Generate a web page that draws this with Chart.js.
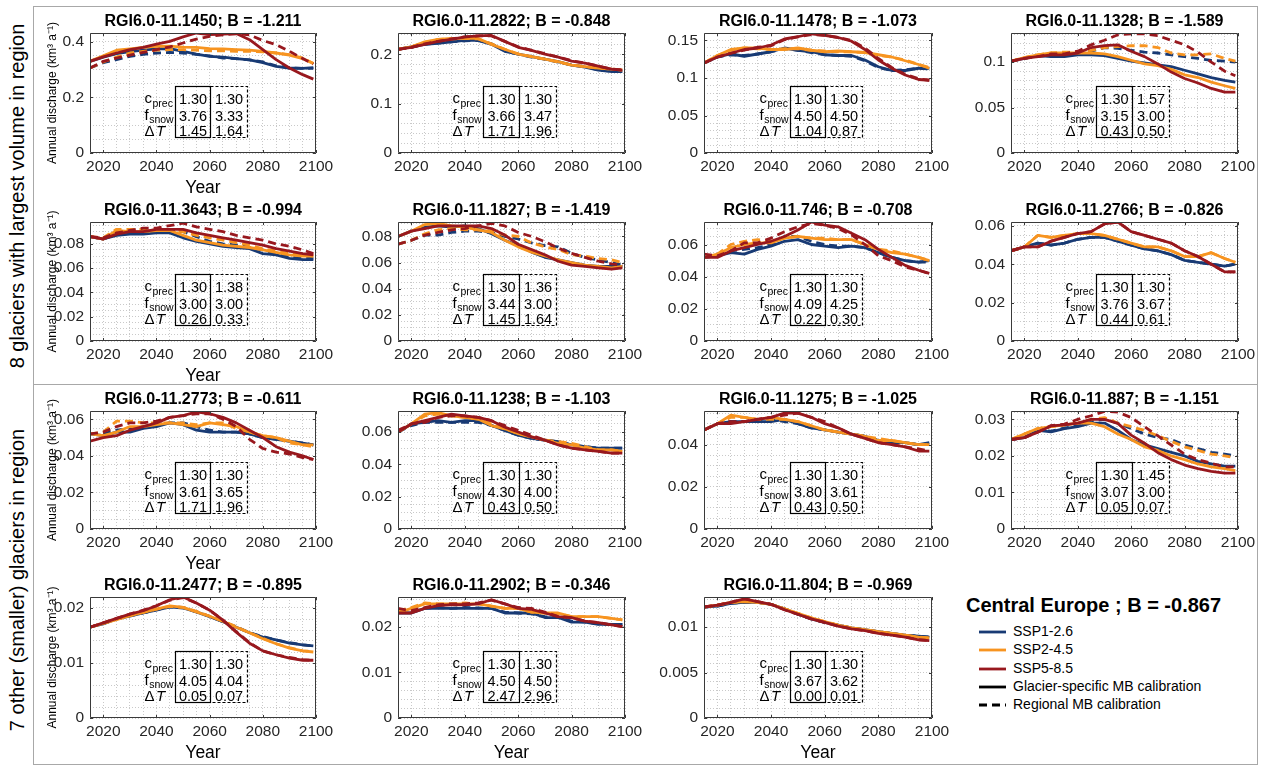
<!DOCTYPE html>
<html>
<head>
<meta charset="utf-8">
<title>Central Europe glacier discharge projections</title>
<script src="https://cdn.jsdelivr.net/npm/chart.js@4.4.1/dist/chart.umd.min.js"></script>
<style>
  html, body { margin: 0; padding: 0; background: #fff; }
  #page { position: relative; width: 1263px; height: 769px; overflow: hidden;
          font-family: "Liberation Sans", Arial, Helvetica, sans-serif; color: #000; }
  #page canvas { position: absolute; }
  .frame { position: absolute; border: 1px solid #a8a8a8; box-sizing: border-box; }
  .rule { position: absolute; height: 1px; background: #a8a8a8; }
  .group { position: absolute; white-space: nowrap; font-size: 20px;
           transform: translate(-50%, -50%) rotate(-90deg); }
  #legend { position: absolute; left: 966px; top: 594px; }
  #legend .head { font-weight: bold; font-size: 20px; white-space: nowrap; margin-bottom: 6px; }
  #legend .row { position: relative; height: 18.3px; font-size: 14px; white-space: nowrap; }
  #legend .row svg { position: absolute; left: 13px; top: 4px; }
  #legend .row span { position: absolute; left: 47px; top: 0; }
</style>
</head>
<body>
<div id="page">
  <div class="frame" style="left:33px; top:6px; width:1225px; height:759px;"></div>
  <div class="rule" style="left:33px; top:384px; width:1225px;"></div>
  <div class="group" style="left:17px; top:196px;">8 glaciers with largest volume in region</div>
  <div class="group" style="left:17px; top:580px;">7 other (smaller) glaciers in region</div>
  <div id="legend"></div>
</div>
<script>
// ---------------------------------------------------------------
// Annual glacier discharge (km3 a-1), 2015-2099, for three SSPs.
// gs = glacier-specific MB calibration, rg = regional MB calibration
// ---------------------------------------------------------------
const YEARS = [2015,2020,2025,2030,2035,2040,2045,2050,2055,2060,2065,2070,2075,2080,2085,2090,2095,2099];

// RGI6.0-11.1450
const gs1450_126 = [0.330,0.345,0.358,0.365,0.370,0.375,0.376,0.366,0.356,0.348,0.345,0.340,0.335,0.325,0.312,0.306,0.305,0.307];
const rg1450_126 = [0.306,0.325,0.336,0.348,0.355,0.360,0.362,0.360,0.355,0.350,0.342,0.340,0.335,0.328,0.314,0.306,0.305,0.305];
const gs1450_245 = [0.330,0.350,0.370,0.375,0.380,0.384,0.385,0.381,0.380,0.376,0.375,0.372,0.370,0.366,0.360,0.352,0.340,0.322];
const rg1450_245 = [0.306,0.328,0.345,0.360,0.366,0.370,0.372,0.372,0.370,0.368,0.368,0.366,0.366,0.364,0.360,0.354,0.342,0.322];
const gs1450_585 = [0.330,0.346,0.360,0.372,0.380,0.392,0.402,0.418,0.432,0.426,0.428,0.430,0.408,0.372,0.336,0.306,0.282,0.266];
const rg1450_585 = [0.306,0.330,0.342,0.352,0.362,0.372,0.382,0.396,0.410,0.420,0.425,0.430,0.425,0.405,0.390,0.366,0.340,0.320];

// RGI6.0-11.2822
const gs2822_126 = [0.210,0.215,0.220,0.222,0.225,0.228,0.228,0.220,0.206,0.200,0.195,0.190,0.185,0.178,0.174,0.168,0.165,0.165];
const rg2822_126 = [0.210,0.214,0.220,0.223,0.225,0.227,0.228,0.221,0.207,0.200,0.194,0.190,0.184,0.178,0.175,0.168,0.166,0.165];
const gs2822_245 = [0.210,0.215,0.225,0.230,0.232,0.232,0.232,0.220,0.210,0.200,0.195,0.190,0.185,0.178,0.175,0.172,0.170,0.168];
const rg2822_245 = [0.210,0.215,0.224,0.230,0.231,0.232,0.231,0.221,0.210,0.201,0.195,0.190,0.184,0.178,0.175,0.172,0.170,0.168];
const gs2822_585 = [0.210,0.214,0.220,0.226,0.230,0.235,0.237,0.238,0.226,0.214,0.208,0.200,0.194,0.186,0.182,0.176,0.170,0.168];
const rg2822_585 = [0.210,0.214,0.221,0.226,0.231,0.235,0.237,0.237,0.226,0.215,0.208,0.201,0.194,0.187,0.182,0.176,0.170,0.168];

// RGI6.0-11.1478
const gs1478_126 = [0.120,0.128,0.132,0.129,0.132,0.135,0.140,0.137,0.135,0.131,0.130,0.130,0.124,0.115,0.110,0.110,0.113,0.113];
const rg1478_126 = [0.120,0.128,0.131,0.130,0.132,0.135,0.139,0.137,0.134,0.131,0.130,0.129,0.123,0.114,0.110,0.111,0.113,0.112];
const gs1478_245 = [0.120,0.130,0.138,0.140,0.140,0.138,0.138,0.140,0.137,0.135,0.136,0.135,0.134,0.131,0.128,0.123,0.118,0.113];
const rg1478_245 = [0.120,0.130,0.137,0.140,0.139,0.138,0.139,0.139,0.137,0.136,0.135,0.135,0.134,0.130,0.128,0.124,0.118,0.114];
const gs1478_585 = [0.120,0.128,0.133,0.138,0.140,0.144,0.152,0.155,0.159,0.157,0.154,0.149,0.138,0.124,0.113,0.104,0.098,0.097];
const rg1478_585 = [0.120,0.128,0.133,0.137,0.141,0.143,0.151,0.155,0.158,0.157,0.154,0.150,0.140,0.126,0.114,0.105,0.099,0.097];

// RGI6.0-11.1328
const gs1328_126 = [0.101,0.104,0.107,0.106,0.106,0.108,0.108,0.107,0.104,0.101,0.099,0.097,0.095,0.091,0.087,0.083,0.080,0.078];
const rg1328_126 = [0.101,0.104,0.107,0.107,0.108,0.110,0.112,0.116,0.115,0.113,0.111,0.110,0.108,0.106,0.104,0.102,0.101,0.100];
const gs1328_245 = [0.101,0.105,0.108,0.110,0.110,0.110,0.110,0.109,0.106,0.102,0.098,0.096,0.092,0.086,0.083,0.078,0.074,0.071];
const rg1328_245 = [0.101,0.105,0.108,0.110,0.111,0.111,0.113,0.116,0.117,0.118,0.118,0.116,0.110,0.108,0.108,0.109,0.104,0.101];
const gs1328_585 = [0.101,0.104,0.106,0.108,0.108,0.110,0.116,0.118,0.119,0.112,0.106,0.098,0.089,0.082,0.077,0.071,0.067,0.067];
const rg1328_585 = [0.101,0.104,0.106,0.109,0.109,0.112,0.119,0.124,0.130,0.131,0.131,0.129,0.124,0.119,0.111,0.100,0.090,0.085];

// RGI6.0-11.3643
const gs3643_126 = [0.086,0.084,0.087,0.088,0.088,0.089,0.089,0.085,0.082,0.080,0.078,0.077,0.076,0.072,0.071,0.068,0.067,0.067];
const rg3643_126 = [0.086,0.084,0.088,0.089,0.090,0.090,0.091,0.090,0.086,0.082,0.080,0.079,0.077,0.075,0.072,0.069,0.068,0.068];
const gs3643_245 = [0.086,0.084,0.091,0.090,0.090,0.091,0.091,0.087,0.083,0.081,0.079,0.078,0.077,0.075,0.073,0.071,0.070,0.070];
const rg3643_245 = [0.086,0.085,0.092,0.092,0.092,0.091,0.091,0.090,0.087,0.085,0.083,0.081,0.079,0.076,0.074,0.072,0.071,0.070];
const gs3643_585 = [0.086,0.084,0.088,0.090,0.090,0.092,0.092,0.092,0.089,0.087,0.085,0.083,0.081,0.079,0.076,0.074,0.072,0.071];
const rg3643_585 = [0.086,0.085,0.089,0.091,0.093,0.093,0.095,0.097,0.094,0.092,0.090,0.087,0.085,0.083,0.080,0.078,0.075,0.072];

// RGI6.0-11.1827
const gs1827_126 = [0.080,0.084,0.087,0.088,0.087,0.088,0.086,0.082,0.077,0.073,0.068,0.064,0.062,0.060,0.058,0.057,0.057,0.057];
const rg1827_126 = [0.074,0.077,0.081,0.081,0.083,0.084,0.084,0.083,0.080,0.078,0.075,0.073,0.072,0.067,0.064,0.062,0.060,0.058];
const gs1827_245 = [0.080,0.084,0.089,0.090,0.088,0.087,0.085,0.083,0.077,0.072,0.068,0.065,0.062,0.060,0.058,0.057,0.056,0.057];
const rg1827_245 = [0.074,0.077,0.082,0.085,0.086,0.085,0.085,0.084,0.081,0.080,0.075,0.072,0.070,0.066,0.065,0.063,0.062,0.060];
const gs1827_585 = [0.080,0.084,0.086,0.088,0.088,0.088,0.088,0.086,0.081,0.074,0.070,0.066,0.061,0.058,0.057,0.056,0.055,0.056];
const rg1827_585 = [0.074,0.077,0.081,0.083,0.085,0.086,0.088,0.090,0.088,0.083,0.080,0.076,0.071,0.067,0.064,0.061,0.059,0.058];

// RGI6.0-11.746
const gs746_126 = [0.052,0.053,0.055,0.054,0.057,0.059,0.062,0.063,0.060,0.059,0.058,0.059,0.058,0.055,0.052,0.050,0.049,0.050];
const rg746_126 = [0.052,0.053,0.056,0.057,0.058,0.060,0.065,0.065,0.062,0.060,0.059,0.059,0.058,0.055,0.052,0.050,0.049,0.049];
const gs746_245 = [0.052,0.054,0.058,0.060,0.061,0.061,0.064,0.065,0.064,0.063,0.063,0.063,0.060,0.057,0.055,0.054,0.052,0.050];
const rg746_245 = [0.052,0.054,0.060,0.062,0.063,0.062,0.064,0.065,0.064,0.064,0.063,0.063,0.060,0.057,0.056,0.054,0.052,0.050];
const gs746_585 = [0.052,0.052,0.056,0.058,0.060,0.062,0.065,0.069,0.074,0.072,0.071,0.067,0.063,0.057,0.052,0.047,0.044,0.042];
const rg746_585 = [0.054,0.053,0.056,0.061,0.061,0.064,0.068,0.071,0.073,0.072,0.070,0.066,0.060,0.053,0.050,0.046,0.044,0.042];

// RGI6.0-11.2766
const gs2766_126 = [0.047,0.049,0.051,0.050,0.051,0.053,0.054,0.054,0.052,0.050,0.048,0.047,0.045,0.042,0.041,0.040,0.039,0.040];
const rg2766_126 = [0.047,0.049,0.051,0.050,0.051,0.053,0.054,0.054,0.052,0.050,0.048,0.047,0.045,0.042,0.041,0.040,0.039,0.040];
const gs2766_245 = [0.047,0.049,0.055,0.054,0.055,0.056,0.056,0.055,0.053,0.051,0.049,0.049,0.047,0.044,0.044,0.046,0.043,0.041];
const rg2766_245 = [0.047,0.049,0.055,0.054,0.055,0.056,0.056,0.055,0.053,0.051,0.049,0.049,0.047,0.044,0.044,0.046,0.043,0.041];
const gs2766_585 = [0.047,0.049,0.049,0.052,0.054,0.056,0.057,0.061,0.062,0.057,0.055,0.053,0.051,0.047,0.044,0.040,0.036,0.036];
const rg2766_585 = [0.047,0.049,0.049,0.052,0.054,0.056,0.057,0.061,0.062,0.057,0.055,0.053,0.051,0.047,0.044,0.040,0.036,0.036];

// RGI6.0-11.2773
const gs2773_126 = [0.052,0.051,0.053,0.053,0.055,0.056,0.058,0.057,0.054,0.053,0.053,0.053,0.052,0.050,0.049,0.048,0.047,0.046];
const rg2773_126 = [0.052,0.052,0.054,0.055,0.056,0.057,0.058,0.058,0.056,0.054,0.053,0.053,0.052,0.050,0.049,0.048,0.047,0.046];
const gs2773_245 = [0.052,0.051,0.053,0.056,0.056,0.057,0.058,0.057,0.056,0.058,0.057,0.056,0.053,0.051,0.050,0.048,0.046,0.046];
const rg2773_245 = [0.052,0.053,0.059,0.059,0.058,0.058,0.058,0.058,0.057,0.058,0.058,0.055,0.053,0.051,0.050,0.047,0.046,0.045];
const gs2773_585 = [0.048,0.050,0.051,0.054,0.056,0.058,0.061,0.062,0.064,0.063,0.061,0.058,0.054,0.050,0.045,0.042,0.040,0.038];
const rg2773_585 = [0.052,0.053,0.056,0.058,0.058,0.059,0.061,0.062,0.063,0.063,0.060,0.056,0.049,0.044,0.042,0.041,0.039,0.038];

// RGI6.0-11.1238
const gs1238_126 = [0.060,0.065,0.066,0.067,0.066,0.067,0.067,0.064,0.061,0.058,0.056,0.055,0.054,0.052,0.051,0.050,0.050,0.050];
const rg1238_126 = [0.060,0.064,0.066,0.066,0.066,0.066,0.066,0.064,0.061,0.058,0.056,0.055,0.054,0.052,0.051,0.050,0.050,0.050];
const gs1238_245 = [0.060,0.065,0.071,0.072,0.070,0.069,0.068,0.064,0.062,0.059,0.057,0.055,0.053,0.052,0.050,0.049,0.049,0.048];
const rg1238_245 = [0.060,0.065,0.070,0.071,0.070,0.069,0.068,0.065,0.062,0.059,0.057,0.055,0.054,0.053,0.051,0.049,0.049,0.048];
const gs1238_585 = [0.060,0.065,0.067,0.069,0.071,0.070,0.069,0.067,0.063,0.060,0.057,0.055,0.052,0.050,0.049,0.048,0.047,0.047];
const rg1238_585 = [0.061,0.065,0.066,0.069,0.070,0.070,0.069,0.067,0.064,0.061,0.058,0.055,0.052,0.050,0.049,0.048,0.047,0.047];

// RGI6.0-11.1275
const gs1275_126 = [0.047,0.050,0.051,0.051,0.051,0.051,0.052,0.050,0.048,0.047,0.046,0.045,0.044,0.042,0.041,0.041,0.040,0.041];
const rg1275_126 = [0.047,0.050,0.051,0.051,0.051,0.052,0.051,0.050,0.048,0.047,0.046,0.045,0.044,0.042,0.041,0.041,0.040,0.040];
const gs1275_245 = [0.047,0.050,0.054,0.053,0.052,0.053,0.052,0.051,0.049,0.047,0.046,0.045,0.044,0.042,0.042,0.041,0.040,0.040];
const rg1275_245 = [0.047,0.050,0.053,0.053,0.052,0.052,0.052,0.051,0.049,0.047,0.046,0.045,0.044,0.043,0.042,0.041,0.040,0.040];
const gs1275_585 = [0.047,0.050,0.050,0.051,0.052,0.053,0.055,0.055,0.053,0.050,0.048,0.045,0.043,0.041,0.040,0.039,0.037,0.037];
const rg1275_585 = [0.047,0.050,0.051,0.051,0.052,0.053,0.054,0.055,0.053,0.051,0.048,0.045,0.043,0.041,0.040,0.039,0.038,0.037];

// RGI6.0-11.887
const gs887_126 = [0.0245,0.0250,0.0270,0.0266,0.0275,0.0280,0.0290,0.0290,0.0270,0.0245,0.0230,0.0220,0.0210,0.0200,0.0185,0.0178,0.0172,0.0172];
const rg887_126 = [0.0245,0.0250,0.0270,0.0268,0.0276,0.0282,0.0295,0.0300,0.0290,0.0275,0.0260,0.0250,0.0245,0.0230,0.0220,0.0210,0.0205,0.0200];
const gs887_245 = [0.0245,0.0260,0.0275,0.0280,0.0285,0.0290,0.0290,0.0280,0.0260,0.0245,0.0225,0.0215,0.0200,0.0190,0.0178,0.0170,0.0165,0.0160];
const rg887_245 = [0.0245,0.0260,0.0275,0.0280,0.0285,0.0290,0.0300,0.0305,0.0290,0.0280,0.0270,0.0255,0.0240,0.0225,0.0215,0.0205,0.0200,0.0195];
const gs887_585 = [0.0245,0.0250,0.0265,0.0282,0.0285,0.0290,0.0300,0.0300,0.0289,0.0257,0.0235,0.0209,0.0190,0.0175,0.0165,0.0158,0.0153,0.0153];
const rg887_585 = [0.0245,0.0250,0.0265,0.0283,0.0287,0.0300,0.0310,0.0322,0.0320,0.0305,0.0280,0.0255,0.0230,0.0205,0.0190,0.0180,0.0170,0.0170];

// RGI6.0-11.2477
const gs2477_126 = [0.0165,0.0171,0.0180,0.0185,0.0191,0.0196,0.0202,0.0200,0.0193,0.0184,0.0175,0.0165,0.0155,0.0147,0.0142,0.0136,0.0133,0.0131];
const rg2477_126 = [0.0165,0.0172,0.0180,0.0186,0.0191,0.0197,0.0202,0.0201,0.0193,0.0185,0.0175,0.0166,0.0155,0.0148,0.0142,0.0137,0.0133,0.0131];
const gs2477_245 = [0.0165,0.0172,0.0179,0.0186,0.0192,0.0198,0.0204,0.0201,0.0193,0.0185,0.0176,0.0165,0.0155,0.0144,0.0135,0.0127,0.0122,0.0120];
const rg2477_245 = [0.0165,0.0172,0.0180,0.0186,0.0192,0.0198,0.0203,0.0201,0.0194,0.0185,0.0176,0.0166,0.0155,0.0145,0.0135,0.0128,0.0122,0.0121];
const gs2477_585 = [0.0165,0.0173,0.0181,0.0189,0.0195,0.0204,0.0215,0.0220,0.0209,0.0196,0.0178,0.0156,0.0136,0.0122,0.0115,0.0109,0.0105,0.0105];
const rg2477_585 = [0.0165,0.0173,0.0181,0.0189,0.0196,0.0204,0.0214,0.0219,0.0209,0.0196,0.0178,0.0157,0.0137,0.0122,0.0115,0.0110,0.0106,0.0105];

// RGI6.0-11.2902
const gs2902_126 = [0.0230,0.0230,0.0240,0.0240,0.0240,0.0240,0.0240,0.0240,0.0230,0.0230,0.0230,0.0220,0.0220,0.0210,0.0210,0.0205,0.0205,0.0205];
const rg2902_126 = [0.0235,0.0232,0.0240,0.0242,0.0240,0.0242,0.0241,0.0240,0.0232,0.0230,0.0228,0.0222,0.0220,0.0212,0.0210,0.0206,0.0205,0.0205];
const gs2902_245 = [0.0230,0.0240,0.0250,0.0250,0.0250,0.0250,0.0250,0.0245,0.0240,0.0240,0.0232,0.0230,0.0230,0.0222,0.0222,0.0222,0.0218,0.0215];
const rg2902_245 = [0.0235,0.0242,0.0252,0.0250,0.0250,0.0252,0.0250,0.0245,0.0240,0.0240,0.0232,0.0230,0.0228,0.0222,0.0222,0.0222,0.0218,0.0215];
const gs2902_585 = [0.0230,0.0230,0.0240,0.0246,0.0248,0.0248,0.0250,0.0259,0.0250,0.0240,0.0238,0.0230,0.0222,0.0220,0.0212,0.0209,0.0204,0.0200];
const rg2902_585 = [0.0240,0.0235,0.0242,0.0248,0.0250,0.0250,0.0252,0.0258,0.0250,0.0242,0.0240,0.0232,0.0222,0.0220,0.0212,0.0209,0.0204,0.0200];

// RGI6.0-11.804
const gs804_126 = [0.0122,0.0123,0.0126,0.0127,0.0127,0.0125,0.0120,0.0114,0.0109,0.0105,0.0102,0.0099,0.0097,0.0095,0.0093,0.0091,0.0090,0.0089];
const rg804_126 = [0.0122,0.0123,0.0126,0.0127,0.0127,0.0125,0.0120,0.0114,0.0109,0.0105,0.0102,0.0099,0.0097,0.0095,0.0093,0.0091,0.0090,0.0089];
const gs804_245 = [0.0122,0.0124,0.0127,0.0128,0.0127,0.0125,0.0120,0.0115,0.0110,0.0106,0.0102,0.0099,0.0097,0.0095,0.0093,0.0091,0.0089,0.0088];
const rg804_245 = [0.0122,0.0124,0.0127,0.0128,0.0127,0.0125,0.0120,0.0115,0.0110,0.0106,0.0102,0.0099,0.0097,0.0095,0.0093,0.0091,0.0089,0.0088];
const gs804_585 = [0.0122,0.0124,0.0127,0.0131,0.0128,0.0125,0.0119,0.0114,0.0109,0.0105,0.0101,0.0098,0.0096,0.0093,0.0091,0.0089,0.0086,0.0085];
const rg804_585 = [0.0122,0.0124,0.0127,0.0131,0.0128,0.0125,0.0119,0.0114,0.0109,0.0105,0.0101,0.0098,0.0096,0.0093,0.0091,0.0089,0.0086,0.0085];

// Panel order: left-to-right, top-to-bottom
const GLACIER_IDS = ['11.1450','11.2822','11.1478','11.1328','11.3643','11.1827','11.746','11.2766',
                     '11.2773','11.1238','11.1275','11.887','11.2477','11.2902','11.804'];
const MB_B = [-1.211,-0.848,-1.073,-1.589,-0.994,-1.419,-0.708,-0.826,-0.611,-1.103,-1.025,-1.151,-0.895,-0.346,-0.969];

// calibration parameters: [glacier-specific, regional]
const C_PREC  = [[1.30,1.30],[1.30,1.30],[1.30,1.30],[1.30,1.57],[1.30,1.38],[1.30,1.36],[1.30,1.30],[1.30,1.30],
                 [1.30,1.30],[1.30,1.30],[1.30,1.30],[1.30,1.45],[1.30,1.30],[1.30,1.30],[1.30,1.30]];
const F_SNOW  = [[3.76,3.33],[3.66,3.47],[4.50,4.50],[3.15,3.00],[3.00,3.00],[3.44,3.00],[4.09,4.25],[3.76,3.67],
                 [3.61,3.65],[4.30,4.00],[3.80,3.61],[3.07,3.00],[4.05,4.04],[4.50,4.50],[3.67,3.62]];
const DELTA_T = [[1.45,1.64],[1.71,1.96],[1.04,0.87],[0.43,0.50],[0.26,0.33],[1.45,1.64],[0.22,0.30],[0.44,0.61],
                 [1.71,1.96],[0.43,0.50],[0.43,0.50],[0.05,0.07],[0.05,0.07],[2.47,2.96],[0.00,0.01]];

// y-axis upper limits and tick steps
const Y_MAX   = [0.432,0.243,0.160,0.132,0.098,0.091,0.074,0.062,0.0645,0.073,0.056,0.0323,0.0220,0.0265,0.0133];
const Y_MAJOR = [0.2,0.1,0.05,0.05,0.02,0.02,0.02,0.02,0.02,0.02,0.02,0.01,0.01,0.01,0.005];
const Y_MINOR = [0.05,0.02,0.01,0.01,0.005,0.005,0.005,0.005,0.005,0.005,0.005,0.002,0.002,0.002,0.001];

const SERIES = [
  [gs1450_126, rg1450_126, gs1450_245, rg1450_245, gs1450_585, rg1450_585],
  [gs2822_126, rg2822_126, gs2822_245, rg2822_245, gs2822_585, rg2822_585],
  [gs1478_126, rg1478_126, gs1478_245, rg1478_245, gs1478_585, rg1478_585],
  [gs1328_126, rg1328_126, gs1328_245, rg1328_245, gs1328_585, rg1328_585],
  [gs3643_126, rg3643_126, gs3643_245, rg3643_245, gs3643_585, rg3643_585],
  [gs1827_126, rg1827_126, gs1827_245, rg1827_245, gs1827_585, rg1827_585],
  [gs746_126,  rg746_126,  gs746_245,  rg746_245,  gs746_585,  rg746_585],
  [gs2766_126, rg2766_126, gs2766_245, rg2766_245, gs2766_585, rg2766_585],
  [gs2773_126, rg2773_126, gs2773_245, rg2773_245, gs2773_585, rg2773_585],
  [gs1238_126, rg1238_126, gs1238_245, rg1238_245, gs1238_585, rg1238_585],
  [gs1275_126, rg1275_126, gs1275_245, rg1275_245, gs1275_585, rg1275_585],
  [gs887_126,  rg887_126,  gs887_245,  rg887_245,  gs887_585,  rg887_585],
  [gs2477_126, rg2477_126, gs2477_245, rg2477_245, gs2477_585, rg2477_585],
  [gs2902_126, rg2902_126, gs2902_245, rg2902_245, gs2902_585, rg2902_585],
  [gs804_126,  rg804_126,  gs804_245,  rg804_245,  gs804_585,  rg804_585]
];

const SCENARIOS = ['SSP1-2.6','SSP2-4.5','SSP5-8.5'];
const SSP_COLORS = ['rgb(24,58,116)','rgb(247,148,32)','rgb(152,24,30)'];
const REGION_TITLE = 'Central Europe ; B = -0.867';

// ---------------------------------------------------------------
// layout of the small multiples (plot-area boxes, px)
// ---------------------------------------------------------------
const COL_LEFT = [90, 398, 704, 1011];
const COL_W    = [226, 227, 228, 227];
const ROW_TOP  = [33, 222, 411, 597];
const ROW_H    = [120, 119, 118, 121];
const PAD_L = 60, PAD_R = 22, PAD_T = 30, PAD_B = 46;
const FONT = '"Liberation Sans", Arial, Helvetica, sans-serif';

Chart.defaults.font.family = FONT;
Chart.defaults.color = '#262626';

const isMultiple = (v, step) => Math.abs(v / step - Math.round(v / step)) < 1e-6;
const fmt = v => (Math.abs(v) < 1e-12 ? '0' : String(+v.toFixed(4)));

// frame + inward tick marks drawn over the series, as in a boxed axes
const boxFrame = {
  id: 'boxFrame',
  afterDatasetsDraw(chart, args, opts) {
    const {ctx, chartArea: a, scales: {x, y}} = chart;
    ctx.save();
    ctx.strokeStyle = '#3a3a3a';
    ctx.lineWidth = 1;
    ctx.beginPath();
    ctx.rect(Math.round(a.left) + 0.5, Math.round(a.top) + 0.5,
             Math.round(a.right - a.left) - 1, Math.round(a.bottom - a.top) - 1);
    ctx.stroke();
    ctx.beginPath();
    for (let v = 2020; v <= 2100; v += 20) {
      const px = Math.round(x.getPixelForValue(v)) + 0.5;
      ctx.moveTo(px, a.bottom); ctx.lineTo(px, a.bottom - 3);
      ctx.moveTo(px, a.top); ctx.lineTo(px, a.top + 3);
    }
    for (let v = 0; v <= opts.ymax + 1e-9; v += opts.major) {
      const py = Math.round(y.getPixelForValue(v)) + 0.5;
      ctx.moveTo(a.left, py); ctx.lineTo(a.left + 3, py);
      ctx.moveTo(a.right, py); ctx.lineTo(a.right - 3, py);
    }
    ctx.stroke();
    ctx.restore();
  }
};

// calibration-parameter table inside each panel
const paramTable = {
  id: 'paramTable',
  afterDraw(chart, args, opts) {
    const {ctx, chartArea: a} = chart;
    const W = a.right - a.left;
    const x0 = Math.round(a.left + 0.375 * W) + 0.5;
    const x1 = Math.round(a.left + 0.531 * W) + 0.5;
    const x2 = Math.round(a.left + 0.695 * W) + 0.5;
    const yb = Math.round(a.bottom - 16) + 0.5;
    const yt = yb - 51;
    ctx.save();
    ctx.strokeStyle = '#000';
    ctx.lineWidth = 1.2;
    ctx.setLineDash([]);
    ctx.strokeRect(x0, yt, x1 - x0, yb - yt);
    ctx.setLineDash([3, 2]);
    ctx.beginPath();
    ctx.moveTo(x1, yt); ctx.lineTo(x2, yt); ctx.lineTo(x2, yb); ctx.lineTo(x1, yb);
    ctx.stroke();
    ctx.setLineDash([]);

    const rows = [opts.cprec, opts.fsnow, opts.dt];
    const base = [yt + 17.5, yt + 34, yt + 49];
    ctx.fillStyle = '#000';
    ctx.textBaseline = 'alphabetic';
    ctx.textAlign = 'center';
    ctx.font = '14.5px ' + FONT;
    rows.forEach((r, k) => {
      ctx.fillText(r[0].toFixed(2), (x0 + x1) / 2, base[k]);
      ctx.fillText(r[1].toFixed(2), (x1 + x2) / 2, base[k]);
    });
    // row labels
    ctx.textAlign = 'left';
    const lx = x0 - 31;
    const sub = (main, s, by) => {
      ctx.font = '15px ' + FONT;
      ctx.fillText(main, lx, by);
      const w = ctx.measureText(main).width;
      ctx.font = '10.5px ' + FONT;
      ctx.fillText(s, lx + w + 0.5, by + 3.5);
    };
    sub('c', 'prec', base[0] - 1);
    sub('f', 'snow', base[1] - 1);
    ctx.font = '15px ' + FONT;
    ctx.fillText('Δ', lx, base[2]);
    const wd = ctx.measureText('Δ').width;
    ctx.font = 'italic 15px ' + FONT;
    ctx.fillText('T', lx + wd + 1.5, base[2]);
    ctx.restore();
  }
};

const page = document.getElementById('page');

GLACIER_IDS.forEach((id, i) => {
  const row = Math.floor(i / 4), col = i % 4;
  const left = COL_LEFT[col], top = ROW_TOP[row], w = COL_W[col], h = ROW_H[row];
  const cv = document.createElement('canvas');
  cv.width = w + PAD_L + PAD_R;
  cv.height = h + PAD_T + PAD_B;
  cv.style.left = (left - PAD_L) + 'px';
  cv.style.top = (top - PAD_T) + 'px';
  cv.style.width = cv.width + 'px';
  cv.style.height = cv.height + 'px';
  page.appendChild(cv);

  const showY = col === 0;
  const showX = col === 0 || row === 3;
  const major = Y_MAJOR[i], minor = Y_MINOR[i];

  // dataset order: first entry is painted on top
  const datasets = [];
  for (let s = 2; s >= 0; s--) {
    for (const regional of [true, false]) {
      const arr = SERIES[i][s * 2 + (regional ? 1 : 0)];
      datasets.push({
        label: SCENARIOS[s] + (regional ? ' regional' : ' glacier-specific'),
        data: YEARS.map((yr, k) => ({x: yr, y: arr[k]})),
        borderColor: SSP_COLORS[s],
        backgroundColor: SSP_COLORS[s],
        borderWidth: 2.8,
        borderDash: regional ? [8, 5] : [],
        borderCapStyle: 'butt',
        borderJoinStyle: 'round',
        pointRadius: 0,
        tension: 0,
        fill: false
      });
    }
  }

  new Chart(cv, {
    type: 'line',
    data: {datasets},
    options: {
      responsive: false,
      animation: false,
      devicePixelRatio: 1,
      events: [],
      layout: {padding: {left: 0, right: PAD_R, top: 0, bottom: 0}},
      plugins: {
        legend: {display: false},
        tooltip: {enabled: false},
        title: {
          display: true,
          text: 'RGI6.0-' + id + '; B = ' + MB_B[i].toFixed(3),
          fullSize: false,
          color: '#000',
          font: {size: 16, weight: 'bold', family: FONT, lineHeight: 1.2},
          padding: {top: 9.4, bottom: 1.4}
        },
        boxFrame: {ymax: Y_MAX[i], major},
        paramTable: {cprec: C_PREC[i], fsnow: F_SNOW[i], dt: DELTA_T[i]}
      },
      scales: {
        x: {
          type: 'linear',
          min: 2015, max: 2100,
          afterFit: s => { s.height = PAD_B; },
          ticks: {
            stepSize: 5, autoSkip: false, maxRotation: 0, minRotation: 0,
            includeBounds: false, padding: 4,
            font: {size: 15.5, family: FONT}, color: '#262626',
            callback: v => (v % 20 === 0 ? String(v) : '')
          },
          grid: {color: '#c9c9c9', lineWidth: 1, drawTicks: false},
          border: {display: false, dash: [1, 2]},
          title: {display: showX, text: 'Year', color: '#000',
                  font: {size: 17.5, family: FONT, lineHeight: 1.2}, padding: {top: 0, bottom: 0}}
        },
        y: {
          type: 'linear',
          min: 0, max: Y_MAX[i],
          afterFit: s => { s.width = PAD_L; },
          ticks: {
            stepSize: minor, autoSkip: false, includeBounds: false, padding: 6,
            font: {size: 15.5, family: FONT}, color: '#262626',
            callback: v => (isMultiple(v, major) ? fmt(v) : '')
          },
          grid: {color: '#c9c9c9', lineWidth: 1, drawTicks: false},
          border: {display: false, dash: [1, 2]},
          title: {display: showY, text: 'Annual discharge (km³ a⁻¹)', color: '#000',
                  font: {size: 12, family: FONT, lineHeight: 1.2}, padding: {top: 15.8, bottom: 0}}
        }
      }
    },
    plugins: [boxFrame, paramTable]
  });
});

// legend block
const legend = document.getElementById('legend');
const head = document.createElement('div');
head.className = 'head';
head.textContent = REGION_TITLE;
legend.appendChild(head);
const entries = SCENARIOS.map((s, k) => ({text: s, color: SSP_COLORS[k], dash: ''}))
  .concat([{text: 'Glacier-specific MB calibration', color: '#000', dash: ''},
           {text: 'Regional MB calibration', color: '#000', dash: '8 5'}]);
entries.forEach(e => {
  const r = document.createElement('div');
  r.className = 'row';
  r.innerHTML = '<svg width="28" height="10"><line x1="0" y1="5" x2="27" y2="5" stroke="' + e.color +
    '" stroke-width="2.8"' + (e.dash ? ' stroke-dasharray="' + e.dash + '"' : '') + '/></svg><span></span>';
  r.querySelector('span').textContent = e.text;
  legend.appendChild(r);
});
</script>
</body>
</html>
